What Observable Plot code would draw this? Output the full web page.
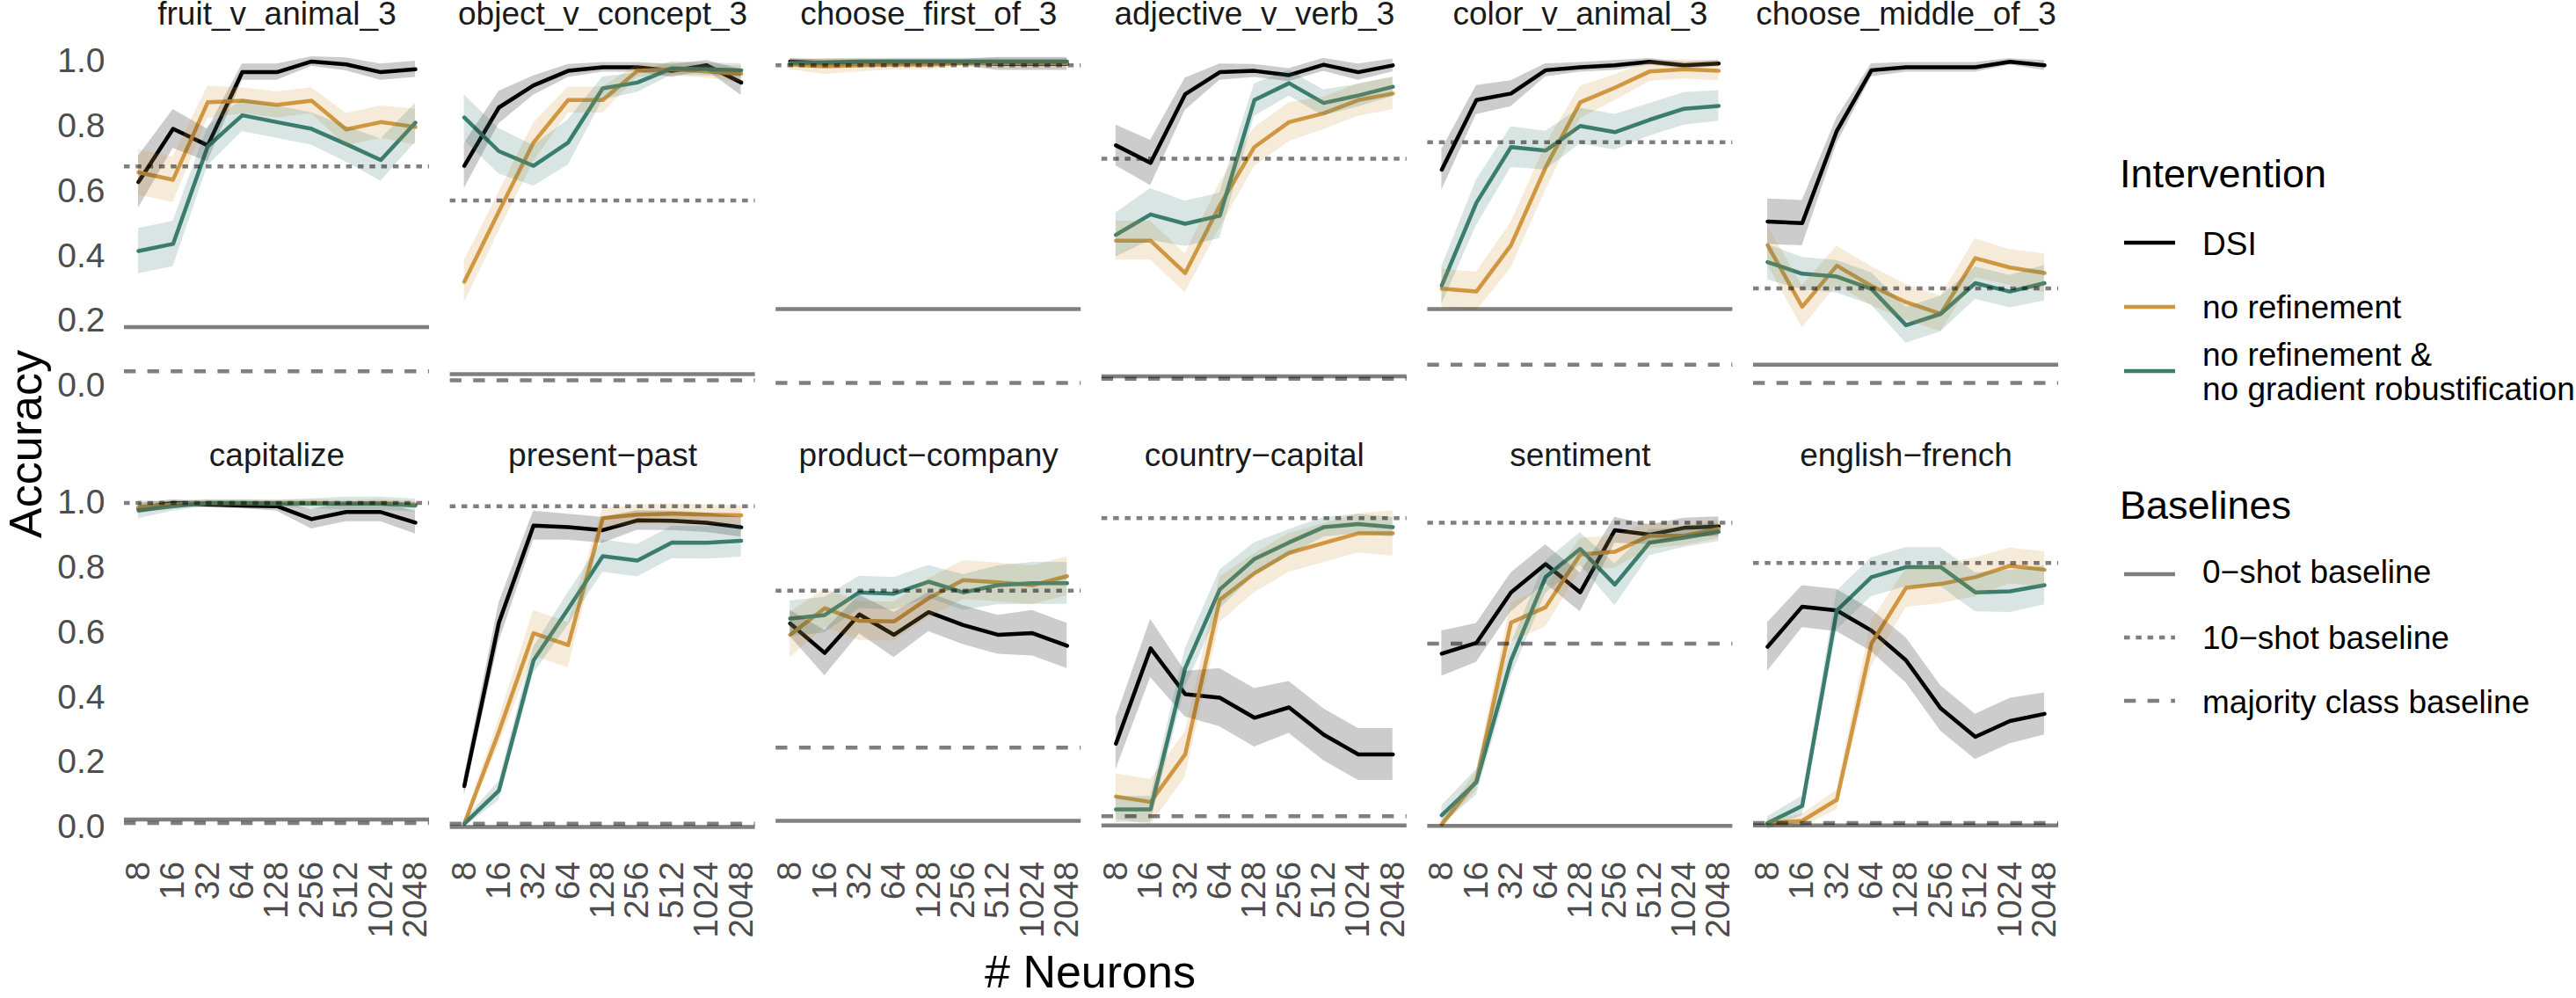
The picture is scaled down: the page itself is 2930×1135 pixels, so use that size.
<!DOCTYPE html>
<html><head><meta charset="utf-8">
<script src="https://cdn.jsdelivr.net/npm/d3@7"></script>
<script src="https://cdn.jsdelivr.net/npm/@observablehq/plot@0.6"></script>
<style>
body{margin:0;background:#fff;}
#wrap{position:relative;width:2930px;height:1135px;font-family:"Liberation Sans",Arial,Helvetica,sans-serif;}
#wrap > svg{position:absolute;left:0;top:0;}
</style></head><body><div id="wrap"></div>
<script>
// ---------------- data ----------------
const tasks = ["fruit_v_animal_3","object_v_concept_3","choose_first_of_3","adjective_v_verb_3","color_v_animal_3","choose_middle_of_3",
               "capitalize","present\u2212past","product\u2212company","country\u2212capital","sentiment","english\u2212french"];
const neurons = [8,16,32,64,128,256,512,1024,2048];
const seriesNames = ["DSI","no refinement","no refinement & no gradient robustification"];
const seriesColors = ["#000000","#D09640","#3A7D6E"];
const yTicks = [0,0.2,0.4,0.6,0.8,1.0];

const dsiMean = [
 [0.628,0.792,0.741,0.967,0.967,1.0,0.991,0.967,0.976],
 [0.678,0.858,0.926,0.971,0.982,0.982,0.971,0.988,0.935],
 [1.0,0.995,0.995,0.997,0.997,0.997,0.993,0.993,0.993],
 [0.741,0.687,0.899,0.967,0.971,0.958,0.99,0.967,0.988],
 [0.666,0.881,0.901,0.973,0.982,0.988,0.999,0.988,0.994],
 [0.506,0.501,0.786,0.973,0.982,0.982,0.982,0.999,0.988],
 [0.983,1.0,0.995,0.992,0.99,0.95,0.972,0.972,0.939],
 [0.126,0.631,0.93,0.925,0.916,0.946,0.945,0.939,0.925],
 [0.628,0.537,0.656,0.593,0.663,0.623,0.593,0.598,0.559],
 [0.257,0.551,0.41,0.399,0.337,0.369,0.285,0.224,0.224],
 [0.535,0.568,0.724,0.811,0.724,0.916,0.902,0.923,0.927],
 [0.556,0.68,0.668,0.606,0.514,0.366,0.278,0.327,0.349]];
const dsiErr = [
 [0.08,0.06,0.05,0.025,0.025,0.015,0.02,0.025,0.025],
 [0.07,0.05,0.03,0.02,0.015,0.015,0.02,0.015,0.04],
 [0.01,0.01,0.01,0.01,0.01,0.01,0.02,0.02,0.02],
 [0.063,0.07,0.05,0.025,0.02,0.02,0.02,0.025,0.02],
 [0.063,0.045,0.04,0.02,0.015,0.015,0.01,0.01,0.01],
 [0.07,0.07,0.04,0.02,0.015,0.015,0.015,0.01,0.015],
 [0.015,0.01,0.01,0.01,0.015,0.03,0.03,0.03,0.035],
 [0.03,0.06,0.045,0.04,0.04,0.03,0.03,0.03,0.03],
 [0.04,0.07,0.06,0.07,0.06,0.06,0.06,0.07,0.07],
 [0.08,0.09,0.07,0.09,0.09,0.08,0.08,0.08,0.08],
 [0.07,0.06,0.06,0.06,0.06,0.04,0.03,0.03,0.03],
 [0.075,0.065,0.065,0.065,0.07,0.07,0.07,0.07,0.065]];

const noRefMean = [
 [0.658,0.635,0.874,0.879,0.866,0.879,0.79,0.813,0.798],
 [0.32,0.537,0.75,0.881,0.881,0.971,0.976,0.969,0.962],
 [0.99,0.985,0.988,0.99,0.99,0.995,0.995,0.995,0.995],
 [0.447,0.447,0.347,0.556,0.736,0.813,0.84,0.881,0.901],
 [0.299,0.29,0.433,0.673,0.874,0.919,0.969,0.976,0.971],
 [0.433,0.243,0.37,0.307,0.257,0.221,0.393,0.364,0.347],
 [0.987,0.995,1.0,1.0,1.0,1.0,0.998,1.0,0.995],
 [0.01,0.294,0.598,0.561,0.953,0.964,0.967,0.964,0.962],
 [0.593,0.675,0.636,0.634,0.706,0.762,0.755,0.746,0.774],
 [0.094,0.077,0.224,0.701,0.783,0.846,0.876,0.906,0.906],
 [0.008,0.142,0.631,0.678,0.841,0.849,0.899,0.899,0.92],
 [0.012,0.019,0.084,0.566,0.738,0.75,0.771,0.806,0.794]];
const noRefErr = [
 [0.07,0.07,0.05,0.04,0.04,0.04,0.05,0.05,0.055],
 [0.065,0.06,0.06,0.04,0.04,0.02,0.02,0.02,0.025],
 [0.015,0.025,0.02,0.015,0.015,0.01,0.01,0.01,0.01],
 [0.06,0.06,0.06,0.07,0.06,0.06,0.05,0.05,0.05],
 [0.06,0.06,0.07,0.07,0.05,0.04,0.03,0.03,0.03],
 [0.06,0.065,0.06,0.06,0.055,0.055,0.06,0.055,0.06],
 [0.02,0.01,0.01,0.01,0.01,0.01,0.01,0.01,0.01],
 [0.01,0.04,0.07,0.07,0.03,0.03,0.03,0.03,0.03],
 [0.07,0.06,0.06,0.06,0.06,0.06,0.06,0.06,0.06],
 [0.07,0.07,0.07,0.07,0.06,0.06,0.06,0.06,0.07],
 [0.01,0.03,0.06,0.06,0.05,0.05,0.04,0.03,0.03],
 [0.01,0.02,0.03,0.07,0.06,0.06,0.06,0.055,0.055]];

const noGradMean = [
 [0.415,0.437,0.738,0.834,0.813,0.792,0.745,0.696,0.811],
 [0.827,0.723,0.678,0.75,0.917,0.935,0.979,0.976,0.973],
 [0.995,0.997,1.0,1.0,1.0,1.0,1.0,1.0,1.0],
 [0.465,0.528,0.499,0.524,0.881,0.933,0.872,0.895,0.922],
 [0.309,0.564,0.736,0.725,0.801,0.782,0.82,0.854,0.863],
 [0.381,0.345,0.336,0.298,0.186,0.221,0.316,0.29,0.316],
 [0.977,0.99,1.0,1.0,0.998,0.998,0.998,0.998,0.992],
 [0.01,0.112,0.514,0.673,0.836,0.822,0.878,0.877,0.883],
 [0.643,0.654,0.724,0.72,0.757,0.724,0.746,0.752,0.752],
 [0.054,0.054,0.49,0.733,0.827,0.878,0.925,0.935,0.925],
 [0.036,0.138,0.514,0.771,0.858,0.748,0.877,0.893,0.911],
 [0.012,0.065,0.668,0.771,0.802,0.802,0.724,0.727,0.746]];
const noGradErr = [
 [0.07,0.07,0.06,0.05,0.05,0.05,0.055,0.065,0.06],
 [0.07,0.07,0.063,0.07,0.035,0.03,0.02,0.02,0.02],
 [0.01,0.01,0.01,0.01,0.01,0.01,0.01,0.01,0.01],
 [0.068,0.08,0.07,0.07,0.05,0.04,0.04,0.035,0.03],
 [0.058,0.07,0.063,0.06,0.055,0.055,0.05,0.05,0.047],
 [0.055,0.05,0.05,0.05,0.055,0.055,0.05,0.05,0.055],
 [0.025,0.015,0.01,0.01,0.01,0.015,0.02,0.02,0.02],
 [0.01,0.03,0.04,0.05,0.05,0.05,0.05,0.05,0.05],
 [0.055,0.055,0.05,0.05,0.05,0.055,0.06,0.065,0.065],
 [0.04,0.04,0.06,0.06,0.05,0.04,0.03,0.03,0.03],
 [0.03,0.04,0.05,0.05,0.05,0.065,0.04,0.03,0.03],
 [0.02,0.03,0.06,0.06,0.06,0.06,0.06,0.065,0.06]];

const zeroShot      = [0.18,0.035,0.236,0.028,0.236,0.064,0.023,0.0,0.019,0.005,0.003,0.005];
const tenShot       = [0.676,0.571,0.988,0.70,0.751,0.30,1.0,0.99,0.729,0.953,0.939,0.815];
const majorityClass = [0.044,0.016,0.008,0.021,0.064,0.008,0.012,0.01,0.245,0.033,0.566,0.012];

const baselineNames = ["0\u2212shot baseline","10\u2212shot baseline","majority class baseline"];
const baselineDash = [null,"6.5,6.8","13.3,13.3"];

// ---------------- build tables ----------------
const means = [dsiMean, noRefMean, noGradMean];
const errs = [dsiErr, noRefErr, noGradErr];
const lineData = [];
tasks.forEach((task, t) => seriesNames.forEach((s, k) => neurons.forEach((n, i) => {
  const m = means[k][t][i], e = errs[k][t][i];
  lineData.push({task, col: t % 6, row: Math.floor(t / 6), series: s, n, mean: m, lo: m - e, hi: m + e});
})));
const panels = tasks.map((task, t) => ({task, col: t % 6, row: Math.floor(t / 6)}));
const baseRows = [zeroShot, tenShot, majorityClass].map(arr => arr.map((v, t) => ({value: v, col: t % 6, row: Math.floor(t / 6)})));

const FONT = "Liberation Sans, Arial, Helvetica, sans-serif";
const hlineStyle = {stroke: "black", strokeOpacity: 0.5, strokeWidth: 4.5};

const chart = Plot.plot({
  width: 2930, height: 1135,
  marginLeft: 141, marginRight: 589, marginTop: 51, marginBottom: 176.6,
  style: {fontSize: "39px", fontFamily: FONT, background: "white", overflow: "visible"},
  fx: {domain: d3.range(6), paddingInner: 0.0637, paddingOuter: 0, round: false, axis: null},
  fy: {domain: [0, 1], paddingInner: 0.1926, paddingOuter: 0, round: false, axis: null},
  x: {type: "log", base: 2, domain: [8, 2048], insetLeft: 16, insetRight: 16},
  y: {domain: [-0.05, 1.05]},
  color: {domain: seriesNames, range: seriesColors},
  marks: [
    Plot.lineY(lineData, {x: "n", y: "mean", z: "series", stroke: "series", strokeWidth: 4.5, fx: "col", fy: "row"}),
    Plot.areaY(lineData, {x: "n", y1: "lo", y2: "hi", z: "series", fill: "series", fillOpacity: 0.2, fx: "col", fy: "row"}),
    Plot.ruleY(baseRows[0], {y: "value", fx: "col", fy: "row", ...hlineStyle}),
    Plot.ruleY(baseRows[1], {y: "value", fx: "col", fy: "row", ...hlineStyle, strokeDasharray: baselineDash[1]}),
    Plot.ruleY(baseRows[2], {y: "value", fx: "col", fy: "row", ...hlineStyle, strokeDasharray: baselineDash[2]}),
    Plot.text(panels, {fx: "col", fy: "row", text: "task", frameAnchor: "top", lineAnchor: "middle", dy: -35, fontSize: 37, fill: "#1A1A1A"}),
    Plot.axisX({ticks: neurons, tickFormat: d => String(d), tickRotate: -90, tickSize: 0, tickPadding: 21, color: "#4D4D4D", fontSize: 39, label: null, facetAnchor: "bottom"}),
    Plot.axisY({ticks: yTicks, tickFormat: d3.format(".1f"), tickSize: 0, tickPadding: 22, color: "#4D4D4D", fontSize: 39, label: null, facetAnchor: "left"})
  ]
});
document.getElementById("wrap").appendChild(chart);

// ---------------- axis titles & legend ----------------
const ov = d3.select("#wrap").append("svg")
  .attr("width", 2930).attr("height", 1135)
  .style("pointer-events", "none").style("font-family", FONT);

ov.append("text").attr("x", 1240).attr("y", 1123).attr("text-anchor", "middle")
  .attr("font-size", 52).attr("fill", "black").text("# Neurons");
ov.append("text").attr("transform", "translate(47,505) rotate(-90)").attr("text-anchor", "middle")
  .attr("font-size", 52).attr("fill", "black").text("Accuracy");

const L = ov.append("g");
const keyX1 = 2416, keyX2 = 2474, labX = 2505;
L.append("text").attr("x", 2411).attr("y", 213).attr("font-size", 45).text("Intervention");
const intervLegend = [
  {lineY: 276, lines: [["DSI", 290]]},
  {lineY: 349, lines: [["no refinement", 362]]},
  {lineY: 422, lines: [["no refinement &", 416], ["no gradient robustification", 455]]}
];
intervLegend.forEach((d, k) => {
  L.append("line").attr("x1", keyX1).attr("x2", keyX2).attr("y1", d.lineY).attr("y2", d.lineY)
    .attr("stroke", seriesColors[k]).attr("stroke-width", 4.5);
  d.lines.forEach(([txt, y]) => L.append("text").attr("x", labX).attr("y", y).attr("font-size", 37).text(txt));
});
L.append("text").attr("x", 2411).attr("y", 590).attr("font-size", 45).text("Baselines");
const baseLegendY = [[653, 663], [725, 738], [797, 811]];
baselineNames.forEach((name, k) => {
  const ln = L.append("line").attr("x1", keyX1).attr("x2", keyX2).attr("y1", baseLegendY[k][0]).attr("y2", baseLegendY[k][0])
    .attr("stroke", "black").attr("stroke-opacity", 0.5).attr("stroke-width", 4.5);
  if (baselineDash[k]) ln.attr("stroke-dasharray", baselineDash[k]);
  L.append("text").attr("x", labX).attr("y", baseLegendY[k][1]).attr("font-size", 37).text(name);
});
</script></body></html>
